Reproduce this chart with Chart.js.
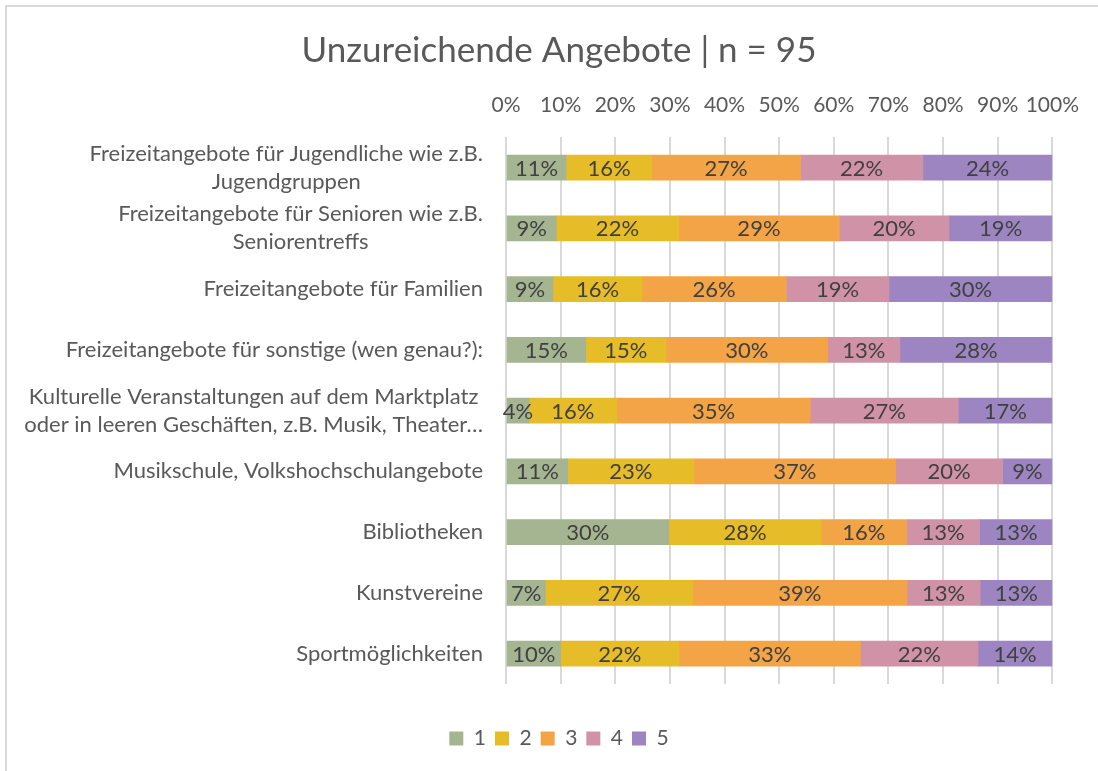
<!DOCTYPE html>
<html>
<head>
<meta charset="utf-8">
<script src="https://cdn.jsdelivr.net/npm/chart.js@4/dist/chart.umd.min.js"></script>
<style>
  html, body { margin: 0; padding: 0; background: #ffffff; overflow: hidden; }
  #wrap { position: absolute; left: 0; top: 0; width: 1098px; height: 771px; }
  #frame { position: absolute; left: 5px; top: 5px; width: 1200px; height: 1000px; border: 2px solid #d9d9d9; box-sizing: border-box; pointer-events: none; }
</style>
</head>
<body>
<div id="wrap"><canvas id="c" width="1098" height="771"></canvas></div>
<div id="frame"></div>
<script>
// ---- data ----
const categories = [
  ["Freizeitangebote für Jugendliche wie z.B.", "Jugendgruppen"],
  ["Freizeitangebote für Senioren wie z.B.", "Seniorentreffs"],
  ["Freizeitangebote für Familien"],
  ["Freizeitangebote für sonstige (wen genau?):"],
  ["Kulturelle Veranstaltungen auf dem Marktplatz", "oder in leeren Geschäften, z.B. Musik, Theater…"],
  ["Musikschule, Volkshochschulangebote"],
  ["Bibliotheken"],
  ["Kunstvereine"],
  ["Sportmöglichkeiten"]
];
const seriesNames = ["1", "2", "3", "4", "5"];
const s1 = [11.0, 9.2, 8.6, 14.6, 4.2, 11.3, 29.8, 7.2, 10.0];
const s2 = [15.7, 22.4, 16.3, 14.7, 16.1, 23.1, 27.9, 27.0, 21.7];
const s3 = [27.2, 29.4, 26.4, 29.6, 35.4, 36.9, 15.6, 39.2, 33.2];
const s4 = [22.4, 20.1, 18.8, 13.2, 27.1, 19.6, 13.4, 13.4, 21.5];
const s5 = [23.7, 18.9, 29.9, 27.9, 17.2, 9.1, 13.3, 13.2, 13.6];
const xTicks = [0, 10, 20, 30, 40, 50, 60, 70, 80, 90, 100];
const titleText = "Unzureichende Angebote | n = 95";

const colors = ["#a5b592", "#e7bc29", "#f3a447", "#d092a7", "#9c85c0"];
const FONT = "Lato";
const TEXT = "#595959";

const catLabelPlugin = {
  id: "catLabels",
  afterDraw(chart) {
    const ctx = chart.ctx;
    const y = chart.scales.y;
    ctx.save();
    ctx.font = "22px " + FONT;
    ctx.fillStyle = TEXT;
    ctx.textAlign = "center";
    ctx.textBaseline = "middle";
    const right = 483;
    const lh = 28;
    categories.forEach((lines, i) => {
      const cy = y.getPixelForTick(i);
      const w = Math.max(...lines.map(l => ctx.measureText(l).width));
      const cx = right - w / 2;
      lines.forEach((l, j) => {
        ctx.fillText(l, cx, cy + (j - (lines.length - 1) / 2) * lh);
      });
    });
    ctx.restore();
  }
};

const dataLabelPlugin = {
  id: "dataLabels",
  afterDatasetsDraw(chart) {
    const ctx = chart.ctx;
    ctx.save();
    ctx.font = "22px " + FONT;
    ctx.fillStyle = "#404040";
    ctx.textAlign = "center";
    ctx.textBaseline = "middle";
    chart.data.datasets.forEach((ds, di) => {
      const meta = chart.getDatasetMeta(di);
      meta.data.forEach((el, i) => {
        const v = ds.data[i];
        const cx = (el.x + el.base) / 2;
        ctx.fillText(Math.round(v) + "%", cx, el.y + 1);
      });
    });
    ctx.restore();
  }
};

const series = [s1, s2, s3, s4, s5];
new Chart(document.getElementById("c"), {
  type: "bar",
  data: {
    labels: categories,
    datasets: series.map((d, i) => ({
      label: seriesNames[i],
      data: d,
      backgroundColor: colors[i],
      borderWidth: 0,
      barThickness: 25
    }))
  },
  options: {
    indexAxis: "y",
    responsive: false,
    animation: false,
    layout: { padding: { left: 65, right: 45, top: 0, bottom: 12 } },
    scales: {
      x: {
        position: "top",
        stacked: true,
        min: 0, max: 100,
        afterBuildTicks: (s) => { s.ticks = xTicks.map(v => ({ value: v })); },
        ticks: {
          callback: (v) => v + "%",
          font: { family: FONT, size: 21 },
          color: TEXT,
          padding: 19,
          maxRotation: 0,
          autoSkip: false
        },
        grid: { color: "#d9d9d9", lineWidth: 2, drawTicks: false },
        border: { display: false }
      },
      xpad: {
        type: "linear",
        axis: "x",
        position: "bottom",
        display: true,
        grid: { display: false },
        ticks: { display: false },
        border: { display: false },
        afterFit: (s) => { s.height = 35; }
      },
      y: {
        stacked: true,
        ticks: { display: false },
        grid: { display: false },
        border: { display: false },
        afterFit: (s) => { s.width = 441; }
      }
    },
    plugins: {
      title: {
        display: true,
        text: titleText,
        color: TEXT,
        font: { family: FONT, size: 35, weight: "normal" },
        padding: { top: 30, bottom: 2 }
      },
      legend: {
        position: "bottom",
        labels: {
          boxWidth: 14,
          boxHeight: 14,
          padding: 9,
          color: TEXT,
          font: { family: FONT, size: 21 }
        }
      },
      tooltip: { enabled: false }
    }
  },
  plugins: [catLabelPlugin, dataLabelPlugin]
});
</script>
</body>
</html>
